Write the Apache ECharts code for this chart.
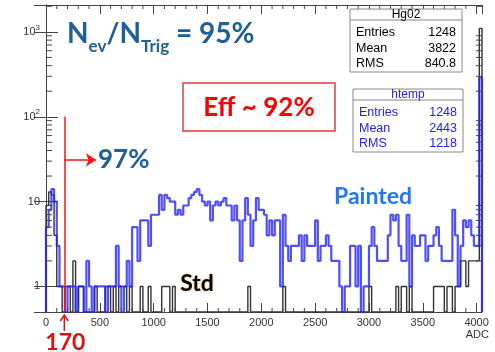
<!DOCTYPE html>
<html><head><meta charset="utf-8">
<script src="https://cdn.jsdelivr.net/npm/echarts@6/dist/echarts.min.js"></script>
<style>html,body{margin:0;padding:0;background:#fff}#c{width:495px;height:352px}</style>
</head><body><div id="c"></div>
<script>
// ---------- data ----------
const binWidth = 25;            // ADC per bin
const xMin = 0, xMax = 4050;
const yMin = 0.5, yMax = 2075;
const xTickInterval = 500;
const yTickValues = [1, 10, 100, 1000];
const yTickLabels = ['1', '10', '10{sup|2}', '10{sup|3}'];

// "Painted" (htemp), counts per 25-ADC bin starting at 0
const paintedCounts = [
  5,8,14,10,3,1,1,0,1,1,
  1,0,1,1,0,2,1,0,1,1,
  1,1,0,1,1,1,3,1,0,1,
  2,1,5,5,2,6,6,6,3,7,
  7,7,12,8,12,11,10,10,7,8,
  7,9,9,11,12,13,14,12,10,9,
  10,6,9,10,9,10,11,9,9,6,
  9,6,2,6,11,7,3,6,11,8,
  8,7,4,6,4,6,6,1,7,3,
  2,3,3,3,4,2,4,3,3,3,
  6,2,3,3,4,3,2,2,2,1,
  0,1,1,3,3,1,3,0,1,1,
  3,5,3,2,2,2,2,4,7,6,
  7,3,2,2,7,1,4,3,3,4,
  4,2,3,3,4,5,3,2,2,2,
  2,8,4,1,3,6,5,6,4,3,
  3,290
];
// "Std" (Hg02), counts per 25-ADC bin starting at 0
const stdCounts = [
  9,13,12,4,1,1,0,1,1,0,
  2,0,1,1,0,0,0,0,1,0,
  0,0,1,1,0,1,0,1,1,1,
  0,1,0,0,0,1,0,0,1,0,
  0,0,0,1,1,1,0,1,0,0,
  0,0,0,0,0,0,0,0,0,0,
  0,0,0,0,0,0,0,0,0,0,
  0,0,0,0,0,1,0,0,0,0,
  0,0,0,0,0,0,0,0,1,0,
  0,0,0,0,0,0,0,0,0,0,
  0,0,0,0,0,0,0,0,0,0,
  0,0,0,0,0,0,0,0,0,0,
  1,0,0,0,0,0,0,0,0,0,
  1,0,1,1,0,1,0,0,0,0,
  0,0,0,0,1,1,1,1,0,1,
  1,0,1,1,2,2,1,2,2,2,
  2,1100
];
const statsLabels = ['Entries', 'Mean', 'RMS'];
const statsStdTitle = 'Hg02';
const statsStdValues = ['1248', '3822', '840.8'];
const statsPaintedTitle = 'htemp';
const statsPaintedValues = ['1248', '2443', '1218'];
const cutADC = 170;
const cutTop = 100;
const arrowLevel = 31;
const arrowEndADC = 465;

// ---------- build ----------
function histPoints(counts) {
  const pts = [[0, yMin]];
  counts.forEach((c, i) => pts.push([i * binWidth, c > 0 ? c : yMin]));
  pts.push([counts.length * binWidth, yMin]);
  return pts;
}
const xMinorTicks = [];
for (let v = 100; v < xMax; v += 100) if (v % xTickInterval) xMinorTicks.push([v, yMin]);
const yMinorTicks = [];
yTickValues.forEach(d => { for (let m = 2; m <= 9; m++) if (m * d < yMax) yMinorTicks.push([xMin, m * d]); });

const axisColor = '#444';
const sans = 'Liberation Sans, Arial, sans-serif';
const bold = 'Lato, "Open Sans", sans-serif';

function yLabel(v) {
  for (let i = 0; i < yTickValues.length; i++)
    if (Math.abs(Math.log10(v) - Math.log10(yTickValues[i])) < 1e-6) return yTickLabels[i];
  return '';
}

const chart = echarts.init(document.getElementById('c'));
const xAxisBase = {
  type: 'value', min: xMin, max: xMax, interval: xTickInterval,
  axisLine: { lineStyle: { color: axisColor, width: 1 } },
  axisTick: { inside: true, length: 9, lineStyle: { color: axisColor } },
  splitLine: { show: false }
};
const yAxisBase = {
  type: 'log', logBase: 10, min: yMin, max: yMax,
  axisLine: { show: true, lineStyle: { color: axisColor, width: 1 } },
  axisTick: { inside: true, length: 12, lineStyle: { color: axisColor } },
  splitLine: { show: false }
};

function statsBox(x, y, w, title, values, color) {
  const els = [
    { type: 'rect', shape: { x: x, y: y, width: w, height: 63 }, style: { fill: '#fff', stroke: '#888', lineWidth: 1 }, z: 10 },
    { type: 'line', shape: { x1: x, y1: y + 11, x2: x + w, y2: y + 11 }, style: { stroke: '#888', lineWidth: 1 }, z: 11 },
    { type: 'text', x: x + w / 2, y: y + 6, style: { text: title, font: '12px ' + sans, fill: color, align: 'center', verticalAlign: 'middle' }, z: 11 }
  ];
  statsLabels.forEach((l, i) => {
    els.push({ type: 'text', x: x + 6, y: y + 24 + i * 15.5, style: { text: l, font: '12.5px ' + sans, fill: color, align: 'left', verticalAlign: 'middle' }, z: 11 });
    els.push({ type: 'text', x: x + w - 6, y: y + 24 + i * 15.5, style: { text: values[i], font: '12.5px ' + sans, fill: color, align: 'right', verticalAlign: 'middle' }, z: 11 });
  });
  return els;
}

const option = {
  animation: false,
  grid: { left: 46, top: 5, right: 13, bottom: 40 },
  xAxis: [
    Object.assign({}, xAxisBase, { position: 'bottom',
      axisLabel: { color: '#333', fontSize: 11, fontFamily: sans, margin: 5, showMaxLabel: false, formatter: v => String(v) } }),
    Object.assign({}, xAxisBase, { position: 'top', axisLabel: { show: false } })
  ],
  yAxis: [
    Object.assign({}, yAxisBase, { position: 'left',
      axisLabel: { color: '#333', fontSize: 11, fontFamily: sans, margin: 6, showMinLabel: false, showMaxLabel: false, formatter: yLabel,
        rich: { sup: { fontSize: 8, fontFamily: sans, color: '#333', padding: [0, 0, 9, 0] } } } }),
    Object.assign({}, yAxisBase, { position: 'right', axisLabel: { show: false } })
  ],
  series: [
    { name: 'Std', type: 'line', step: 'end', showSymbol: false, data: histPoints(stdCounts),
      lineStyle: { color: '#333', width: 1.4 }, z: 3, silent: true },
    { name: 'Painted', type: 'line', step: 'end', showSymbol: false, data: histPoints(paintedCounts),
      lineStyle: { color: 'rgba(35,35,255,0.8)', width: 2.2 }, z: 4, silent: true,
      markLine: { silent: true, animation: false, symbolSize: 10, label: { show: false },
        lineStyle: { color: '#ff1010', width: 1.5, type: 'solid' },
        data: [
          [{ coord: [cutADC, cutTop], symbol: 'none' }, { coord: [cutADC, yMin], symbol: 'none' }],
          [{ coord: [cutADC, arrowLevel], symbol: 'none' }, { coord: [arrowEndADC, arrowLevel], symbol: 'arrow' }]
        ] } },
    { type: 'custom', data: xMinorTicks, silent: true, z: 5,
      renderItem: function (params, api) {
        const cs = params.coordSys; const p = api.coord([api.value(0), api.value(1)]);
        const st = { stroke: axisColor, lineWidth: 1 };
        return { type: 'group', children: [
          { type: 'line', shape: { x1: p[0], y1: cs.y + cs.height, x2: p[0], y2: cs.y + cs.height - 4 }, style: st },
          { type: 'line', shape: { x1: p[0], y1: cs.y, x2: p[0], y2: cs.y + 4 }, style: st }
        ] };
      } },
    { type: 'custom', data: yMinorTicks, silent: true, z: 5,
      renderItem: function (params, api) {
        const cs = params.coordSys; const p = api.coord([api.value(0), api.value(1)]);
        const st = { stroke: axisColor, lineWidth: 1 };
        return { type: 'group', children: [
          { type: 'line', shape: { x1: cs.x, y1: p[1], x2: cs.x + 6, y2: p[1] }, style: st },
          { type: 'line', shape: { x1: cs.x + cs.width, y1: p[1], x2: cs.x + cs.width - 6, y2: p[1] }, style: st }
        ] };
      } },
    { type: 'custom', data: [[cutADC, yMin]], silent: true, clip: false, z: 6,
      renderItem: function (params, api) {
        const p = api.coord([api.value(0), api.value(1)]);
        const st = { stroke: '#e01010', lineWidth: 1.5, fill: null };
        return { type: 'group', children: [
          { type: 'polyline', shape: { points: [[p[0] - 4, p[1] + 9], [p[0], p[1] + 3], [p[0] + 4, p[1] + 9]] }, style: st },
          { type: 'line', shape: { x1: p[0], y1: p[1] + 3, x2: p[0], y2: p[1] + 19 }, style: st },
          { type: 'text', x: p[0] + 1, y: p[1] + 31, style: { text: String(cutADC), font: 'bold 23px ' + bold, fill: '#e01010', align: 'center', verticalAlign: 'middle' } }
        ] };
      } }
  ],
  graphic: [].concat(
    statsBox(350, 9, 112, statsStdTitle, statsStdValues, '#000'),
    statsBox(353, 89, 110, statsPaintedTitle, statsPaintedValues, '#2020ff'),
    [
      { type: 'text', x: 67, y: 55, z: 12, style: {
          text: '{n|N}{s|ev}{n|/N}{s|Trig}{n| = 95%}', align: 'left', verticalAlign: 'bottom',
          rich: {
            n: { fontSize: 28, fontWeight: 'bold', fontFamily: bold, fill: '#1d5f96', verticalAlign: 'bottom', padding: [0, 0, 7, 0] },
            s: { fontSize: 17, fontWeight: 'bold', fontFamily: bold, fill: '#1d5f96', verticalAlign: 'bottom' }
          } } },
      { type: 'rect', z: 12, shape: { x: 183, y: 83, width: 152, height: 48 }, style: { fill: 'none', stroke: '#e83a3a', lineWidth: 1.5 } },
      { type: 'text', x: 259, y: 108, z: 12, style: { text: 'Eff ~ 92%', font: 'bold 26px ' + bold, fill: '#ff0000', align: 'center', verticalAlign: 'middle' } },
      { type: 'text', x: 98, y: 160, z: 12, style: { text: '97%', font: 'bold 26px ' + bold, fill: '#1d5f96', align: 'left', verticalAlign: 'middle' } },
      { type: 'text', x: 373, y: 197, z: 12, style: { text: 'Painted', font: 'bold 23px ' + bold, fill: '#1f78f0', align: 'center', verticalAlign: 'middle' } },
      { type: 'text', x: 197, y: 284, z: 12, style: { text: 'Std', font: 'bold 23px ' + bold, fill: '#000', align: 'center', verticalAlign: 'middle', textShadowColor: 'rgba(255,160,0,0.7)', textShadowBlur: 2 } },
      { type: 'text', x: 489, y: 335, z: 12, style: { text: 'ADC', font: '11px ' + sans, fill: '#333', align: 'right', verticalAlign: 'middle' } }
    ]
  )
};
chart.setOption(option);
</script>
</body></html>
